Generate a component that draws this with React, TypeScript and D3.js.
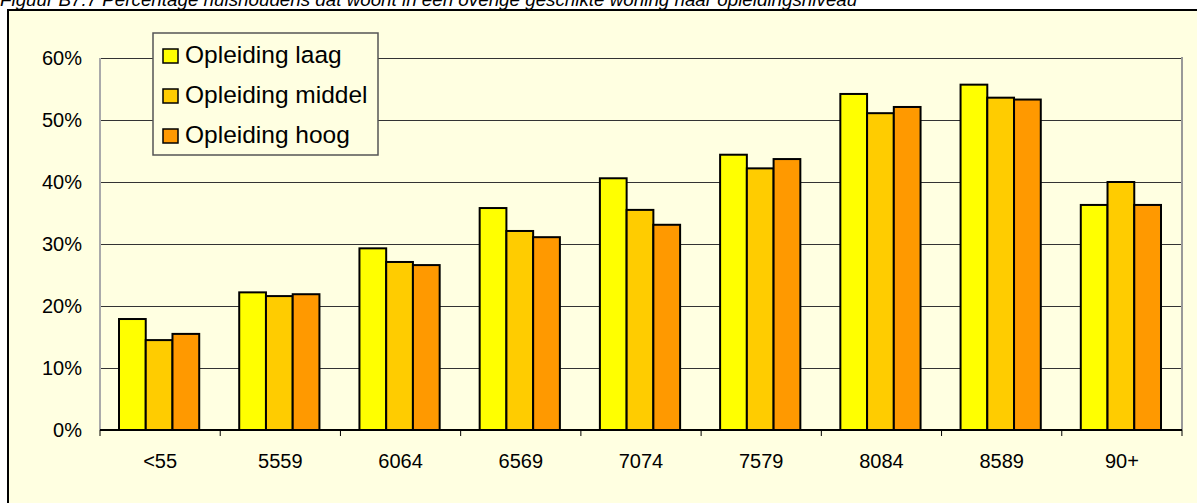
import React, { useEffect, useRef } from "react";
import * as d3 from "d3";

const categories = ["<55", "5559", "6064", "6569", "7074", "7579", "8084", "8589", "90+"];
const seriesNames = ["Opleiding laag", "Opleiding middel", "Opleiding hoog"];
const laag = [17.9, 22.2, 29.3, 35.8, 40.6, 44.4, 54.2, 55.7, 36.3];
const middel = [14.5, 21.6, 27.1, 32.1, 35.5, 42.2, 51.1, 53.6, 40.0];
const hoog = [15.5, 21.9, 26.6, 31.1, 33.1, 43.7, 52.1, 53.3, 36.3];
const yTicks = [0, 10, 20, 30, 40, 50, 60];
const title = "Figuur B7.7 Percentage huishoudens dat woont in een overige geschikte woning naar opleidingsniveau";
const colors = ["#FFFF00", "#FFCC00", "#FF9900"];

export default function App() {
  const ref = useRef<SVGSVGElement>(null);
  useEffect(() => {
    const W = 1197, H = 503;
    const svg = d3.select(ref.current);
    svg.selectAll("*").remove();
    const font = "Arial, 'Liberation Sans', sans-serif";
    const left = 100, right = 1182, top = 58, bottom = 430;

    svg.append("rect").attr("x", 0).attr("y", 0).attr("width", W).attr("height", H).attr("fill", "#fff");
    svg.append("text").attr("x", 0).attr("y", 6).attr("font-family", font).attr("font-style", "italic")
      .attr("font-size", 18.8).attr("fill", "#000").text(title);
    // frame
    svg.append("rect").attr("x", 8).attr("y", 10).attr("width", W + 10).attr("height", H + 10)
      .attr("fill", "#FFFFE1").attr("stroke", "#000").attr("stroke-width", 2);

    const x = d3.scaleBand<string>().domain(categories).range([left, right]).paddingInner(0).paddingOuter(0);
    const inner = d3.scaleBand<number>().domain([0, 1, 2]).range([19, x.bandwidth() - 21]);
    const y = d3.scaleLinear().domain([0, 60]).range([bottom, top]);

    // gridlines
    svg.append("g").attr("shape-rendering", "crispEdges").selectAll("line").data(yTicks.filter(t => t > 0)).join("line")
      .attr("x1", left).attr("x2", right).attr("y1", d => Math.round(y(d)) + 0.5).attr("y2", d => Math.round(y(d)) + 0.5)
      .attr("stroke", "#333").attr("stroke-width", 1);
    // plot border right gray
    svg.append("line").attr("x1", right).attr("x2", right).attr("y1", top - 1).attr("y2", bottom)
      .attr("stroke", "#999").attr("stroke-width", 2);
    // left axis
    svg.append("line").attr("x1", left).attr("x2", left).attr("y1", top).attr("y2", bottom)
      .attr("stroke", "#aaa").attr("stroke-width", 2);

    const series = [laag, middel, hoog];
    series.forEach((vals, si) => {
      svg.append("g").selectAll("rect").data(vals).join("rect")
        .attr("x", (d, i) => (x(categories[i]) as number) + (inner(si) as number))
        .attr("y", d => y(d))
        .attr("width", inner.bandwidth())
        .attr("height", d => y(0) - y(d))
        .attr("fill", colors[si]).attr("stroke", "#000").attr("stroke-width", 2);
    });

    // x axis
    svg.append("line").attr("x1", left).attr("x2", right).attr("y1", bottom).attr("y2", bottom)
      .attr("stroke", "#000").attr("stroke-width", 2);
    const bounds = categories.map(c => x(c) as number).concat([right]);
    svg.append("g").selectAll("line").data(bounds).join("line")
      .attr("x1", d => d).attr("x2", d => d).attr("y1", bottom).attr("y2", bottom + 6)
      .attr("stroke", "#000").attr("stroke-width", 1);
    svg.append("g").selectAll("text").data(categories).join("text")
      .attr("x", d => (x(d) as number) + x.bandwidth() / 2).attr("y", 468)
      .attr("text-anchor", "middle").attr("font-family", font).attr("font-size", 20).text(d => d);
    svg.append("g").selectAll("text").data(yTicks).join("text")
      .attr("x", 82).attr("y", d => y(d) + 7)
      .attr("text-anchor", "end").attr("font-family", font).attr("font-size", 20).text(d => d + "%");

    // legend
    const lg = svg.append("g");
    lg.append("rect").attr("x", 153).attr("y", 33).attr("width", 225).attr("height", 122)
      .attr("fill", "#FFFFE1").attr("stroke", "#555").attr("stroke-width", 1.5);
    seriesNames.forEach((n, i) => {
      const base = 63 + i * 40;
      lg.append("rect").attr("x", 163).attr("y", base - 14).attr("width", 15).attr("height", 14)
        .attr("fill", colors[i]).attr("stroke", "#000").attr("stroke-width", 1.5);
      lg.append("text").attr("x", 185).attr("y", base).attr("font-family", font).attr("font-size", 24.5)
        .text(n);
    });
  }, []);
  return (
    <div style={{ position: "absolute", left: 0, top: 0 }}>
      <svg ref={ref} width={1197} height={503} style={{ display: "block" }} />
    </div>
  );
}
